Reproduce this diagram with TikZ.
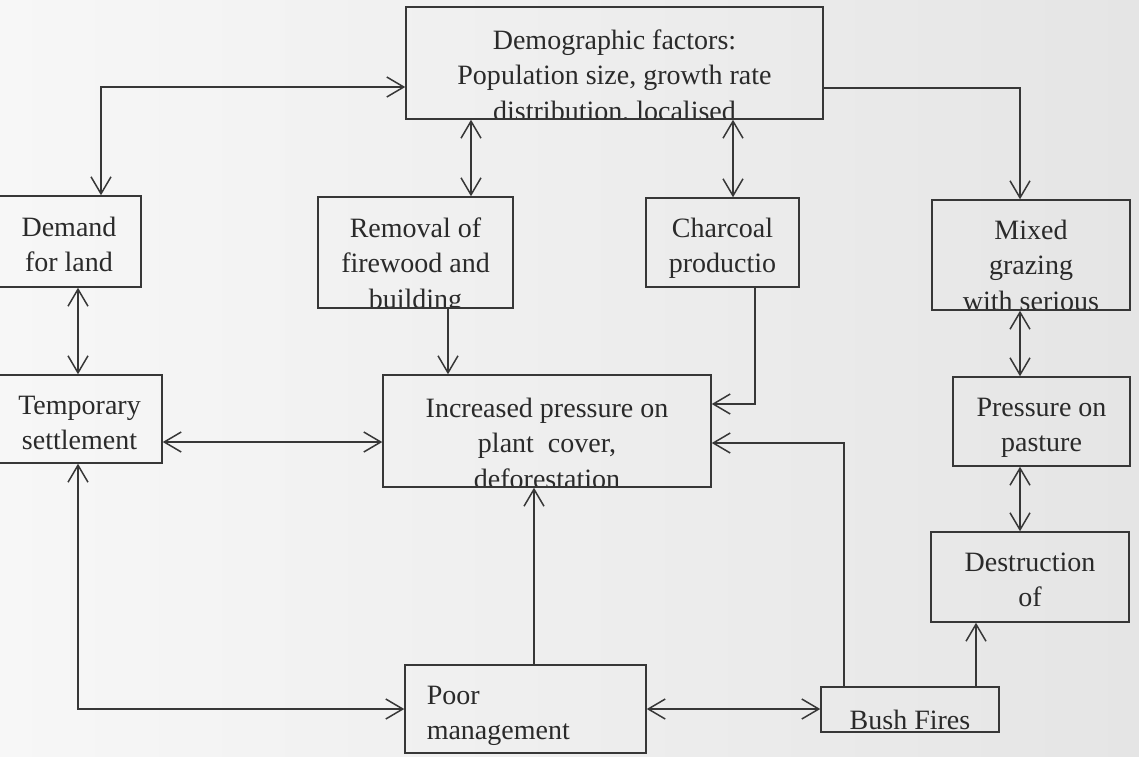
\documentclass[tikz,border=0pt]{standalone}
\usepackage{fontspec}
\setmainfont{Liberation Serif}
\usetikzlibrary{arrows.meta}
\definecolor{linec}{RGB}{55,55,55}
\definecolor{textc}{RGB}{42,42,42}
\definecolor{bgl}{RGB}{247,247,247}
\definecolor{bgr}{RGB}{229,229,229}
\tikzset{
	box/.style={draw=linec, line width=1.5pt, inner sep=0pt},
	conn/.style={draw=linec, line width=1.5pt},
	txt/.style={draw=none, minimum width=0pt, minimum height=0pt, text=textc, inner sep=0pt, font=\fontsize{28}{35.5}\selectfont},
	lbl/.style n args={3}{path picture={\node[txt, align=center, anchor=north] (#1) at ([yshift=-#2]path picture bounding box.north) {#3};}},
	lblleft/.style n args={3}{path picture={\node[txt, align=left, anchor=north west] (#1) at ([xshift=21pt,yshift=-#2]path picture bounding box.north west) {#3};}}
}
\begin{document}
\begin{tikzpicture}[x=1pt, y=-1pt, >={Straight Barb[length=17pt,width=20pt]}]
			\path[left color=bgl, right color=bgr] (0,0) rectangle (1139,756);
			\useasboundingbox (0,0) rectangle (1139,756);
			
			\node[box, minimum width=417pt, minimum height=112pt, lbl={demt}{22pt}{Demographic factors:\\Population size, growth rate\\distribution, localised}] (dem) at (614.5,63) {};
			
			\node[box, minimum width=144pt, minimum height=91pt, lbl={demandt}{20pt}{Demand\\for land}] (demand) at (69,241.5) {};
			\node[box, minimum width=195pt, minimum height=111pt, lbl={removalt}{20pt}{Removal of\\firewood and\\building}] (removal) at (415.5,252.5) {};
			\node[box, minimum width=153pt, minimum height=89pt, lbl={charcoalt}{19pt}{Charcoal\\productio}] (charcoal) at (722.5,242.5) {};
			\node[box, minimum width=198pt, minimum height=110pt, lbl={mixedt}{19pt}{Mixed\\grazing\\with serious}] (mixed) at (1031,255) {};
			
			\node[box, minimum width=165pt, minimum height=88pt, lbl={tempt}{20pt}{Temporary\\settlement}] (temp) at (79.5,419) {};
			\node[box, minimum width=328pt, minimum height=112pt, lbl={incrt}{22pt}{Increased pressure on\\plant~~cover,\\deforestation}] (incr) at (547,431) {};
			\node[box, minimum width=177pt, minimum height=89pt, lbl={pastt}{20pt}{Pressure on\\pasture}] (past) at (1041.5,421.5) {};
			
			\node[box, minimum width=198pt, minimum height=90pt, lbl={destrt}{20pt}{Destruction\\of}] (destr) at (1030,577) {};
			\node[box, minimum width=241pt, minimum height=88pt, lblleft={poort}{20pt}{Poor\\management}] (poor) at (525.5,709) {};
			\node[box, minimum width=178pt, minimum height=45pt, lbl={busht}{22.5pt}{Bush Fires}] (bush) at (910,709.5) {};
			
			\draw[conn, arrows=<->] ([yshift=-24pt]dem.west) -| ([xshift=32pt]demand.north);
			\draw[conn, arrows=<->] ([xshift=-143.5pt]dem.south) -- ([xshift=-143.5pt]dem.south |- removal.north);
			\draw[conn, arrows=<->] ([xshift=118.5pt]dem.south) -- ([xshift=118.5pt]dem.south |- charcoal.north);
			\draw[conn, arrows=->] ([yshift=-25pt]dem.east) -| ([xshift=-11pt]mixed.north);
			
			\draw[conn, arrows=<->] ([xshift=9pt]demand.south) -- ([xshift=9pt]demand.south |- temp.north);
			\draw[conn, arrows=->] ([xshift=32.5pt]removal.south) -- ([xshift=32.5pt]removal.south |- incr.north);
			\draw[conn, arrows=->] ([xshift=32.5pt]charcoal.south) |- ([yshift=27pt]incr.east);
			\draw[conn, arrows=<->] ([xshift=-11pt]mixed.south) -- ([xshift=-11pt]mixed.south |- past.north);
			
			\draw[conn, arrows=<->] ([yshift=-23pt]temp.east) -- ([yshift=-23pt]temp.east -| incr.west);
			\draw[conn, arrows=<->] ([xshift=-1.5pt]temp.south) |- (poor.west);
			\draw[conn, arrows=->] ([xshift=8.5pt]poor.north) -- ([xshift=8.5pt]poor.north |- incr.south);
			\draw[conn, arrows=<->] (poor.east) -- (poor.east -| bush.west);
			\draw[conn, arrows=->] ([xshift=-66pt]bush.north) |- ([yshift=-12pt]incr.east);
			\draw[conn, arrows=->] ([xshift=66pt]bush.north) -- ([xshift=66pt]bush.north |- destr.south);
			\draw[conn, arrows=<->] ([xshift=-21.5pt]past.south) -- ([xshift=-21.5pt]past.south |- destr.north);
			
		\end{tikzpicture}
\end{document}
